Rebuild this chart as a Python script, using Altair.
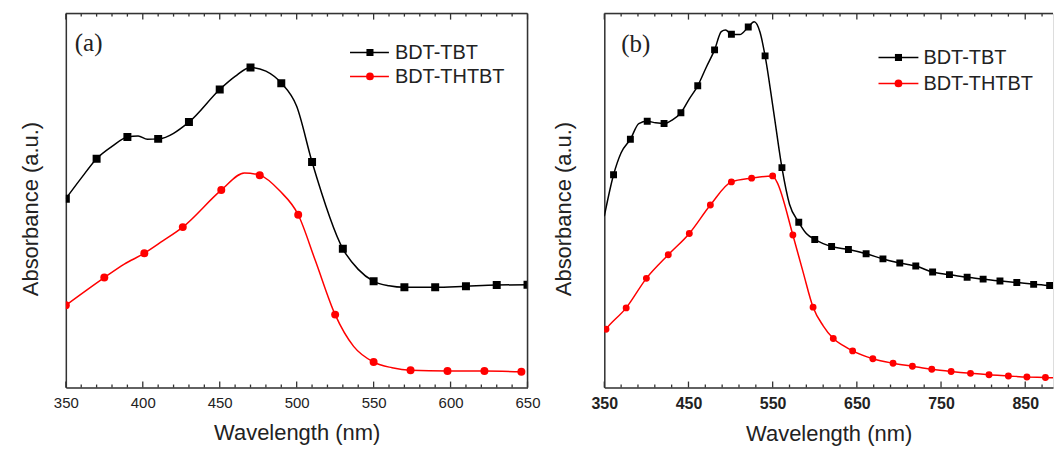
import altair as alt
import pandas as pd

NAMES = ["BDT-TBT", "BDT-THTBT"]
COLORS = ["#000000", "#ff0000"]

# ---------------- Panel (a) ----------------
a_tbt_wl = [350, 370, 390, 410, 430, 450, 470, 490, 510, 530, 550, 570, 590, 610, 630, 650]
a_tbt_abs = [0.505, 0.612, 0.670, 0.665, 0.710, 0.797, 0.856, 0.814, 0.603, 0.371, 0.284, 0.268, 0.268, 0.271, 0.274, 0.275]
a_tbt_curve_wl = [360, 380, 397, 403, 460, 480, 500, 540, 560]
a_tbt_curve_abs = [0.560, 0.645, 0.673, 0.664, 0.832, 0.846, 0.752, 0.316, 0.272]

a_th_wl = [350, 375, 401, 426, 451, 476, 501, 525, 550, 574, 598, 622, 646]
a_th_abs = [0.220, 0.294, 0.359, 0.429, 0.528, 0.568, 0.462, 0.195, 0.068, 0.046, 0.044, 0.044, 0.042]
a_th_curve_wl = [388, 413, 466, 489, 512, 537, 562]
a_th_curve_abs = [0.330, 0.392, 0.574, 0.526, 0.341, 0.110, 0.053]

a_major = [350, 400, 450, 500, 550, 600, 650]
a_minor = [360, 370, 380, 390, 410, 420, 430, 440, 460, 470, 480, 490, 510, 520, 530, 540,
           560, 570, 580, 590, 610, 620, 630, 640]

# ---------------- Panel (b) ----------------
b_tbt_wl = [361, 381, 401, 421, 441, 461, 481, 501, 521, 541, 561, 581, 600, 620, 640, 661,
            681, 701, 720, 740, 760, 781, 800, 820, 840, 860, 879, 899]
b_tbt_abs = [0.569, 0.664, 0.712, 0.706, 0.735, 0.807, 0.903, 0.945, 0.964, 0.887, 0.588, 0.442,
             0.396, 0.377, 0.369, 0.358, 0.344, 0.333, 0.325, 0.309, 0.302, 0.295, 0.290, 0.285,
             0.281, 0.276, 0.273, 0.270]
b_tbt_curve_wl = [350, 370, 391, 411, 431, 451, 471, 489, 494, 511, 528, 535, 551, 570, 590, 610]
b_tbt_curve_abs = [0.458, 0.628, 0.706, 0.708, 0.716, 0.772, 0.856, 0.952, 0.956, 0.944, 0.978,
                   0.950, 0.740, 0.490, 0.412, 0.385]

b_th_wl = [352, 376, 400, 426, 451, 476, 501, 525, 550, 574, 598, 622, 645, 669, 693, 716, 739,
           762, 785, 807, 830, 852, 874, 896]
b_th_abs = [0.156, 0.213, 0.292, 0.355, 0.412, 0.488, 0.550, 0.560, 0.566, 0.408, 0.215, 0.131,
            0.098, 0.077, 0.065, 0.057, 0.049, 0.043, 0.038, 0.034, 0.031, 0.028, 0.027, 0.025]
b_th_curve_wl = [350, 555, 586, 610, 634]
b_th_curve_abs = [0.150, 0.550, 0.310, 0.165, 0.112]

b_major = [350, 450, 550, 650, 750, 850]
b_minor = [370, 390, 410, 430, 470, 490, 510, 530, 570, 590, 610, 630, 670, 690, 710, 730,
           770, 790, 810, 830, 870]

FRAME = "#333333"
TEXT = "#222222"


def frames(wl1, ab1, cwl1, cab1, wl2, ab2, cwl2, cab2):
    m = pd.concat([
        pd.DataFrame({"wl": wl1, "abs": ab1, "series": NAMES[0]}),
        pd.DataFrame({"wl": wl2, "abs": ab2, "series": NAMES[1]}),
    ])
    c = pd.concat([
        m,
        pd.DataFrame({"wl": cwl1, "abs": cab1, "series": NAMES[0]}),
        pd.DataFrame({"wl": cwl2, "abs": cab2, "series": NAMES[1]}),
    ]).sort_values(["series", "wl"])
    return m, c


def panel(markers, curve, domain, W, H, major, minor, label_font_size, label_weight,
          ytitle_pad, label_text, label_xy, leg, msize, right_border):
    xs = alt.Scale(domain=domain, nice=False, zero=False)
    ys = alt.Scale(domain=[0, 1], nice=False, zero=False)
    col = alt.Color("series:N", scale=alt.Scale(domain=NAMES, range=COLORS), legend=None)
    shp = alt.Shape("series:N", scale=alt.Scale(domain=NAMES, range=["square", "circle"]), legend=None)

    line = alt.Chart(curve).mark_line(interpolate="monotone", strokeWidth=1.5, clip=True).encode(
        x=alt.X("wl:Q", scale=xs, axis=alt.Axis(
            orient="bottom", values=major, ticks=False, domain=True, domainColor=FRAME,
            domainWidth=1.5, grid=False,
            labelFont="Liberation Sans", labelFontSize=label_font_size, labelFontWeight=label_weight,
            labelColor=TEXT, labelPadding=8, labelFlush=False,
            title="Wavelength (nm)", titleFont="Liberation Sans", titleFontSize=22,
            titleFontWeight="normal", titleColor=TEXT, titlePadding=12)),
        y=alt.Y("abs:Q", scale=ys, axis=alt.Axis(
            orient="left", labels=False, ticks=False, domain=True, domainColor=FRAME,
            domainWidth=1.5, grid=False,
            title="Absorbance (a.u.)", titleFont="Liberation Sans", titleFontSize=22,
            titleFontWeight="normal", titleColor=TEXT, titlePadding=ytitle_pad, titleY=H / 2 + 8)),
        color=col,
        detail="series:N",
    )

    pts = alt.Chart(markers).mark_point(filled=True, size=msize, opacity=1, clip=True).encode(
        x=alt.X("wl:Q", scale=xs, axis=None),
        y=alt.Y("abs:Q", scale=ys, axis=None),
        color=col, shape=shp,
    )

    layers = [line, pts]

    # inward tick marks on the bottom and top edges, placed through the x scale
    tk_major = pd.DataFrame({"tick": major})
    tk_minor = pd.DataFrame({"tick": minor})
    for df, ln in ((tk_major, 6), (tk_minor, 3)):
        layers.append(alt.Chart(df).mark_rule(color=FRAME, strokeWidth=1.3).encode(
            x=alt.X("tick:Q", scale=xs, axis=None), y=alt.value(H), y2=alt.value(H - ln)))
        layers.append(alt.Chart(df).mark_rule(color=FRAME, strokeWidth=1.3).encode(
            x=alt.X("tick:Q", scale=xs, axis=None), y=alt.value(0), y2=alt.value(ln)))

    # top edge of frame (and right edge for panel a)
    edge = pd.DataFrame({"edge": ["top"]})
    layers.append(alt.Chart(edge).mark_rule(color=FRAME, strokeWidth=1.5).encode(
        x=alt.value(0), x2=alt.value(W), y=alt.value(0)))
    if right_border:
        layers.append(alt.Chart(edge).mark_rule(color=FRAME, strokeWidth=1.5).encode(
            x=alt.value(W), y=alt.value(0), y2=alt.value(H)))

    # legend drawn as line + marker + text
    (lx0, lx1, lxm, ltx, rows) = leg
    for i, name in enumerate(NAMES):
        d = pd.DataFrame({"series": [name]})
        y = rows[i]
        layers.append(alt.Chart(d).mark_rule(color=COLORS[i], strokeWidth=1.5).encode(
            x=alt.value(lx0), x2=alt.value(lx1), y=alt.value(y)))
        layers.append(alt.Chart(d).mark_point(
            shape=["square", "circle"][i], filled=True, size=[50, 60][i], color=COLORS[i], opacity=1
        ).encode(x=alt.value(lxm), y=alt.value(y)))
        layers.append(alt.Chart(d).mark_text(
            align="left", baseline="middle", font="Liberation Sans", fontSize=20, color=TEXT
        ).encode(x=alt.value(ltx), y=alt.value(y + 1), text="series:N"))

    lab = pd.DataFrame({"label": [label_text]})
    layers.append(alt.Chart(lab).mark_text(
        align="left", baseline="alphabetic", font="Liberation Serif", fontSize=25, color=TEXT
    ).encode(x=alt.value(label_xy[0]), y=alt.value(label_xy[1]), text="label:N"))

    return alt.layer(*layers).resolve_axis(x="independent", y="independent").properties(
        width=W, height=H)


a_m, a_c = frames(a_tbt_wl, a_tbt_abs, a_tbt_curve_wl, a_tbt_curve_abs,
                  a_th_wl, a_th_abs, a_th_curve_wl, a_th_curve_abs)
b_m, b_c = frames(b_tbt_wl, b_tbt_abs, b_tbt_curve_wl, b_tbt_curve_abs,
                  b_th_wl, b_th_abs, b_th_curve_wl, b_th_curve_abs)

H = 375
left = panel(a_m, a_c, [350, 650], 463, H, a_major, a_minor, 15, "normal", 23, "(a)", (9, 37),
             (285, 324, 305, 330, [39, 63]), 64, True)
right = panel(b_m, b_c, [350, 883], 450, H, b_major, b_minor, 16, "bold", 29, "(b)", (17, 38),
              (275, 315, 295, 320, [44, 70]), 48, False)

chart = alt.hconcat(left, right, spacing=10).properties(
    padding={"left": 11, "top": 3, "right": 0, "bottom": 0}
).configure_view(stroke=None).configure(background="white")

chart.save("out.html", embed_options={"renderer": "svg", "actions": False})
